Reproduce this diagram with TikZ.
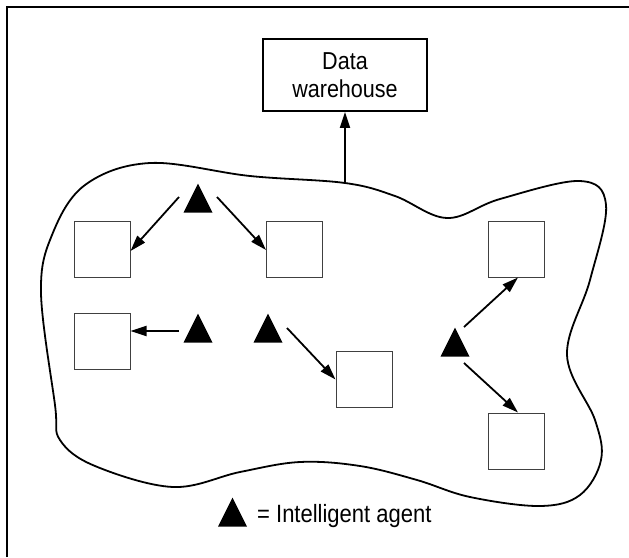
\documentclass[tikz,border=0pt]{standalone}
\usepackage{fontspec}
\setmainfont{Liberation Sans}[FakeStretch=0.88]
\usetikzlibrary{shapes.geometric,arrows.meta}
\begin{document}
\begin{tikzpicture}[x=1pt,y=-1pt,
  box/.style={draw=black!75, line width=1pt, minimum size=56pt, inner sep=0pt, fill=white},
  agent/.style={isosceles triangle, isosceles triangle stretches, shape border rotate=90,
    minimum width=29pt, minimum height=29pt, inner sep=0pt, fill=black, anchor=apex},
  link/.style={line width=1.8pt, -{Triangle[length=16pt,width=10pt]}},
  blob/.style={line width=1.8pt},
  frame/.style={line width=2pt},
  dwbox/.style={draw, line width=1.8pt, minimum width=164pt, minimum height=72pt,
    align=center, font=\fontsize{24.5}{28}\selectfont, inner sep=0pt}]
\useasboundingbox (0,0) rectangle (629,557);
\draw[frame] (7,557) -- (7,7) -- (629,7);

% region boundary
\draw[blob] plot[smooth cycle, tension=0.6] coordinates {
  (150,163) (250,176) (345,183) (395,196) (447,218) (500,199) (580,181)
  (606,205) (590,280) (567,355) (595,420) (601,460) (580,495) (540,506)
  (470,497) (417,480) (360,466) (300,462) (240,472) (173,487) (95,466)
  (60,440) (55,405) (41,293) (52,235) (85,185)};

% data warehouse
\node[dwbox] (dw) at (345,75) {Data\\warehouse};
\coordinate (top) at (345,183);
\draw[link] (top) -- (dw.south);

% data sources
\node[box] (A) at (102,249) {};
\node[box] (B) at (294.5,249) {};
\node[box] (C) at (102,341) {};
\node[box] (D) at (364,379.5) {};
\node[box] (E) at (516.5,249) {};
\node[box] (F) at (516.5,441) {};

% agents
\node[agent] (t1) at (198,183) {};
\node[agent] (t2) at (198,313) {};
\node[agent] (t3) at (268,313) {};
\node[agent] (t4) at (455,327) {};

\coordinate (s1) at (179,197);
\coordinate (s2) at (217,197);
\coordinate (s3) at (179,331);
\coordinate (s4) at (287,328);
\coordinate (s5) at (464,327);
\coordinate (s6) at (464,363);

\draw[link] (s1) -- (A.-4);
\draw[link] (s2) -- (B.182);
\draw[link] (s3) -- (C.east |- s3);
\draw[link] (s4) -- (D.180);
\draw[link] (s5) -- (E.-87);
\draw[link] (s6) -- (F.87);

% legend
\node[agent] (lt) at (232.5,497) {};
\node[anchor=base west, inner sep=0pt, font=\fontsize{25}{28}\selectfont] (lg) at (257,522) {= Intelligent agent};
\end{tikzpicture}
\end{document}
